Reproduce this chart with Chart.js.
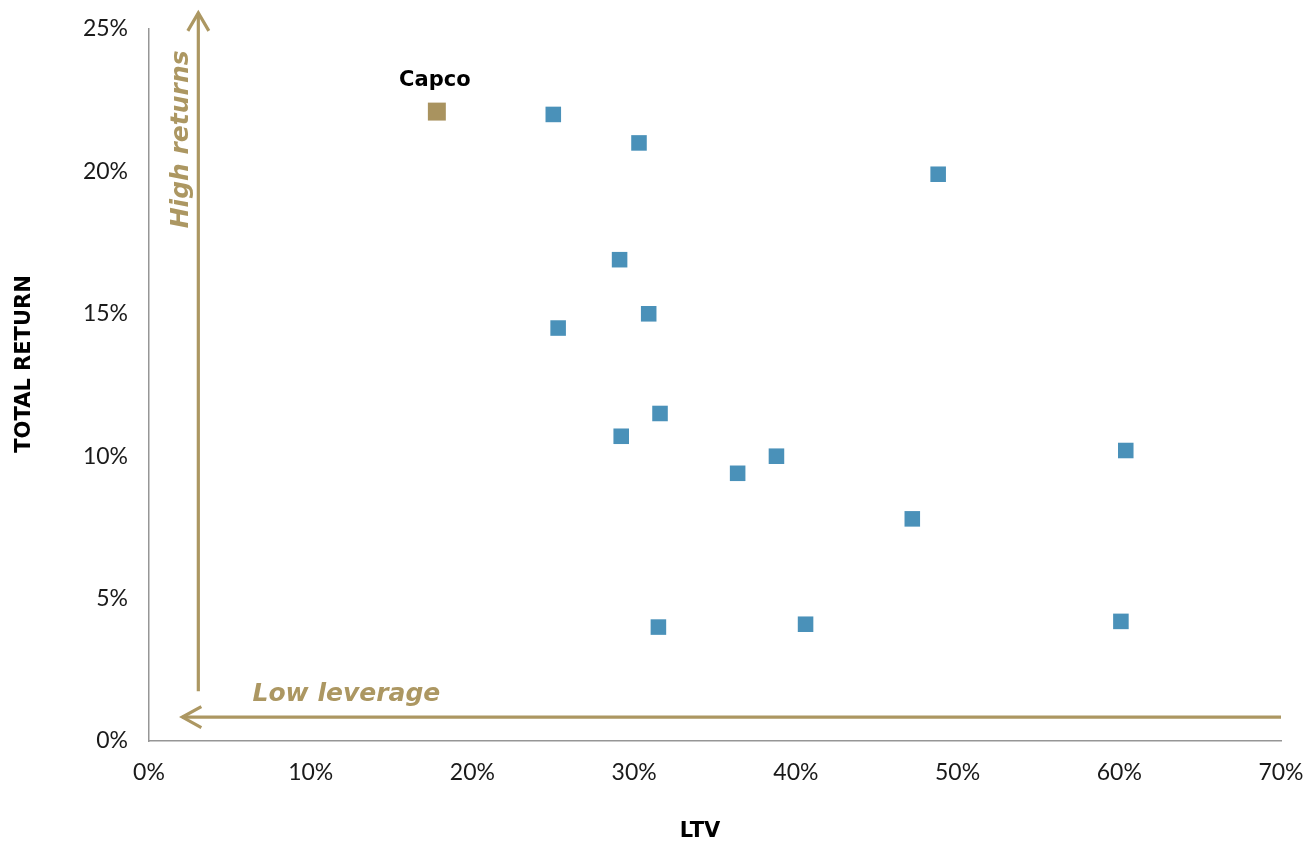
<!DOCTYPE html>
<html>
<head>
<meta charset="utf-8">
<title>Total return vs LTV</title>
<script src="https://cdn.jsdelivr.net/npm/chart.js@4.4.1/dist/chart.umd.min.js"></script>
<style>
  html, body { margin: 0; padding: 0; background: #ffffff; }
  #wrap { width: 1305px; height: 843px; position: relative; }
</style>
</head>
<body>
<div id="wrap"><canvas id="chart"></canvas></div>
<script>
// LTV (%) and total return (%) per company
const peerLtv    = [25.0, 30.3, 48.8, 29.1, 25.3, 30.9, 31.6, 29.2, 38.8, 36.4, 60.4, 47.2, 31.5, 40.6, 60.1];
const peerReturn = [22.0, 21.0, 19.9, 16.9, 14.5, 15.0, 11.5, 10.7, 10.0, 9.4, 10.2, 7.8, 4.0, 4.1, 4.2];

const capcoName   = 'Capco';
const capcoLtv    = [17.8];
const capcoReturn = [22.1];

const xTickLabels = ['0%', '10%', '20%', '30%', '40%', '50%', '60%', '70%'];
const yTickLabels = ['0%', '5%', '10%', '15%', '20%', '25%'];

const xTitle = 'LTV';
const yTitle = 'TOTAL RETURN';
const upLabel = 'High returns';
const leftLabel = 'Low leverage';

const BLUE = '#4A91B9';
const GOLD = '#A9935F';
const ARROW = '#AC9762';

const toPoints = (xs, ys) => xs.map((x, i) => ({ x: x, y: ys[i] }));

// Guide arrows and their captions, placed in data units
const guides = {
  id: 'guides',
  afterDraw(chart) {
    const { ctx, scales: { x, y } } = chart;
    ctx.save();
    ctx.strokeStyle = ARROW;
    ctx.fillStyle = ARROW;
    ctx.lineWidth = 3.2;
    ctx.lineCap = 'butt';

    // vertical arrow: returns increase upward
    const vx = x.getPixelForValue(3.05);
    const vTop = y.getPixelForValue(25.6);
    const vBot = y.getPixelForValue(1.75);
    ctx.beginPath();
    ctx.moveTo(vx, vBot);
    ctx.lineTo(vx, vTop + 1);
    ctx.stroke();
    ctx.beginPath();
    ctx.moveTo(vx - 10.5, vTop + 19);
    ctx.lineTo(vx, vTop + 1);
    ctx.lineTo(vx + 10.5, vTop + 19);
    ctx.stroke();

    // horizontal arrow: leverage decreases leftward
    const hy = y.getPixelForValue(0.84);
    const hLeft = x.getPixelForValue(2.0);
    const hRight = x.getPixelForValue(70);
    ctx.beginPath();
    ctx.moveTo(hRight, hy);
    ctx.lineTo(hLeft + 1, hy);
    ctx.stroke();
    ctx.beginPath();
    ctx.moveTo(hLeft + 20, hy - 10.5);
    ctx.lineTo(hLeft + 1, hy);
    ctx.lineTo(hLeft + 20, hy + 10.5);
    ctx.stroke();

    // captions
    ctx.font = 'italic bold 25px "DejaVu Sans"';
    ctx.textAlign = 'left';
    ctx.textBaseline = 'alphabetic';
    ctx.fillText(leftLabel, x.getPixelForValue(6.4), y.getPixelForValue(1.42));

    ctx.save();
    ctx.translate(x.getPixelForValue(2.4), y.getPixelForValue(18.0));
    ctx.rotate(-Math.PI / 2);
    ctx.fillText(upLabel, 0, 0);
    ctx.restore();

    // Capco marker label
    const pt = chart.getDatasetMeta(1).data[0];
    ctx.fillStyle = '#000000';
    ctx.font = 'bold 21px "DejaVu Sans"';
    ctx.textAlign = 'center';
    ctx.fillText(capcoName, pt.x - 2, pt.y - 26);

    // axis titles
    ctx.font = 'bold 21px "DejaVu Sans"';
    ctx.textBaseline = 'middle';
    ctx.fillText(xTitle, 700, 832);
    ctx.save();
    ctx.translate(25, 364);
    ctx.rotate(-Math.PI / 2);
    ctx.fillText(yTitle, 0, 0);
    ctx.restore();

    ctx.restore();
  }
};

new Chart(document.getElementById('chart'), {
  type: 'scatter',
  data: {
    datasets: [
      {
        label: 'Peers',
        data: toPoints(peerLtv, peerReturn),
        pointStyle: 'rect',
        pointRadius: 11,
        pointHoverRadius: 11,
        backgroundColor: BLUE,
        borderColor: BLUE,
        borderWidth: 0
      },
      {
        label: capcoName,
        data: toPoints(capcoLtv, capcoReturn),
        pointStyle: 'rect',
        pointRadius: 12.7,
        pointHoverRadius: 12.7,
        backgroundColor: GOLD,
        borderColor: GOLD,
        borderWidth: 0
      }
    ]
  },
  options: {
    responsive: true,
    maintainAspectRatio: false,
    animation: false,
    layout: { padding: { left: 0, right: 24, top: 29, bottom: 0 } },
    plugins: {
      legend: { display: false },
      tooltip: { enabled: false }
    },
    scales: {
      x: {
        type: 'linear',
        min: 0,
        max: 70,
        afterFit(scale) {
          scale.height = 102;
          scale.paddingLeft = 0;
          scale.paddingRight = 0;
        },
        grid: { display: false },
        border: { display: true, color: '#969696', width: 1.5 },
        ticks: {
          stepSize: 10,
          padding: 10,
          color: '#1a1a1a',
          font: { family: 'Lato', size: 23 },
          maxRotation: 0,
          callback: (v) => xTickLabels[Math.round(v / 10)]
        }
      },
      y: {
        type: 'linear',
        min: 0,
        max: 25,
        afterFit(scale) {
          scale.width = 149;
          scale.paddingTop = 0;
          scale.paddingBottom = 0;
        },
        grid: { display: false },
        border: { display: true, color: '#969696', width: 1.5 },
        ticks: {
          stepSize: 5,
          padding: 13,
          color: '#1a1a1a',
          font: { family: 'Lato', size: 23 },
          callback: (v) => yTickLabels[Math.round(v / 5)]
        }
      }
    }
  },
  plugins: [guides]
});
</script>
</body>
</html>
